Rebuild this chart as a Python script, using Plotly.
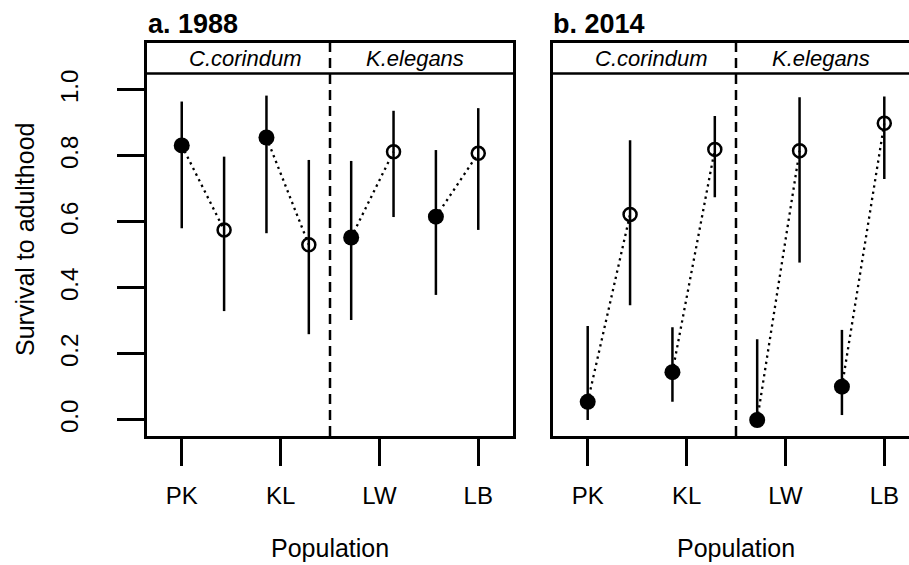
import plotly.graph_objects as go

# ---------------- data ----------------
populations = ["PK", "KL", "LW", "LB"]
species_labels = ["C.corindum", "K.elegans"]
panel_titles = ["a. 1988", "b. 2014"]
y_ticks = [0.0, 0.2, 0.4, 0.6, 0.8, 1.0]

# x positions: filled point then open point for each population
filled_pos = [1, 3, 5, 7]
open_pos = [2, 4, 6, 8]
pop_tick_pos = [1, 10 / 3, 17 / 3, 8]
species_label_pos = [2.5, 6.5]
species_divider = 4.5

# 1988
filled_1988 = [0.832, 0.856, 0.553, 0.616]
filled_1988_lo = [0.581, 0.566, 0.303, 0.379]
filled_1988_hi = [0.965, 0.983, 0.785, 0.818]
open_1988 = [0.576, 0.531, 0.813, 0.808]
open_1988_lo = [0.330, 0.260, 0.615, 0.576]
open_1988_hi = [0.798, 0.788, 0.937, 0.945]

# 2014
filled_2014 = [0.055, 0.145, 0.0, 0.101]
filled_2014_lo = [0.0, 0.055, 0.0, 0.015]
filled_2014_hi = [0.285, 0.281, 0.245, 0.273]
open_2014 = [0.623, 0.820, 0.816, 0.899]
open_2014_lo = [0.348, 0.675, 0.477, 0.730]
open_2014_hi = [0.848, 0.921, 0.978, 0.980]

# ---------------- style ----------------
FONT = "Liberation Sans, Arial, Helvetica, sans-serif"
LW = 2.5
W, H = 909, 565
STRIP_Y = 1.05

fig = go.Figure()


def add_panel(fig, xa, ya, fv, flo, fhi, ov, olo, ohi):
    # dotted connectors
    cx, cy = [], []
    for i in range(len(fv)):
        cx += [filled_pos[i], open_pos[i], None]
        cy += [fv[i], ov[i], None]
    fig.add_trace(go.Scatter(x=cx, y=cy, mode="lines", xaxis=xa, yaxis=ya,
                             line=dict(color="black", width=2.3, dash="2.3px,4px"),
                             showlegend=False, hoverinfo="skip"))
    # filled points
    fig.add_trace(go.Scatter(
        x=filled_pos, y=fv, mode="markers", xaxis=xa, yaxis=ya,
        marker=dict(symbol="circle", size=16, color="black"),
        error_y=dict(type="data", symmetric=False,
                     array=[h - v for h, v in zip(fhi, fv)],
                     arrayminus=[v - l for l, v in zip(flo, fv)],
                     color="black", thickness=LW, width=0),
        showlegend=False))
    # open points
    fig.add_trace(go.Scatter(
        x=open_pos, y=ov, mode="markers", xaxis=xa, yaxis=ya,
        marker=dict(symbol="circle-open", size=13, color="black",
                    line=dict(width=LW, color="black")),
        error_y=dict(type="data", symmetric=False,
                     array=[h - v for h, v in zip(ohi, ov)],
                     arrayminus=[v - l for l, v in zip(olo, ov)],
                     color="black", thickness=LW, width=0),
        showlegend=False))


add_panel(fig, "x", "y", filled_1988, filled_1988_lo, filled_1988_hi,
          open_1988, open_1988_lo, open_1988_hi)
add_panel(fig, "x2", "y2", filled_2014, filled_2014_lo, filled_2014_hi,
          open_2014, open_2014_lo, open_2014_hi)

y_range = [-0.0485, 1.1424]
y_domain = [(H - 436) / H, (H - 43) / H]

xcommon = dict(tickvals=pop_tick_pos, ticktext=populations, ticks="outside",
               ticklen=27, tickwidth=LW, tickcolor="black", showline=True,
               linewidth=LW, linecolor="black", showgrid=False, zeroline=False,
               tickfont=dict(family=FONT, size=24, color="black"),
               ticklabelstandoff=9, fixedrange=True)

fig.update_layout(
    width=W, height=H, margin=dict(l=0, r=0, t=0, b=0),
    paper_bgcolor="white", plot_bgcolor="white",
    font=dict(family=FONT, color="black"),
    xaxis=dict(domain=[147 / W, 513 / W], range=[0.18, 8.82], mirror=True, **xcommon),
    xaxis2=dict(domain=[552.7 / W, 1.0], range=[0.174, 8.583], mirror=True,
                anchor="y2", **xcommon),
    yaxis=dict(domain=y_domain, range=y_range, tickvals=y_ticks,
               ticktext=[f"{v:.1f}" for v in y_ticks], tickangle=-90,
               ticks="outside", ticklen=27, tickwidth=LW, tickcolor="black",
               showline=True, linewidth=LW, linecolor="black", mirror=True,
               showgrid=False, zeroline=False, ticklabelstandoff=30,
               tickfont=dict(family=FONT, size=24, color="black"), fixedrange=True),
    yaxis2=dict(domain=y_domain, range=y_range, anchor="x2", showticklabels=False,
                ticks="", showline=True, linewidth=LW, linecolor="black",
                mirror=False, showgrid=False, zeroline=False, fixedrange=True),
)

shapes = []
annotations = []
for xa, ya, xref_dom in [("x", "y", "x domain"), ("x2", "y2", "x2 domain")]:
    # strip bottom border
    shapes.append(dict(type="line", xref=xref_dom, yref=ya, x0=0, x1=1,
                       y0=STRIP_Y, y1=STRIP_Y, line=dict(color="black", width=LW)))
    # species divider
    shapes.append(dict(type="line", xref=xa, yref=ya + " domain",
                       x0=species_divider, x1=species_divider, y0=0, y1=1,
                       line=dict(color="black", width=LW, dash="10px,6px")))
    for lbl, pos in zip(species_labels, species_label_pos):
        annotations.append(dict(text=f"<i>{lbl}</i>", x=pos, y=(STRIP_Y + y_range[1]) / 2,
                                xref=xa, yref=ya, showarrow=False,
                                xanchor="center", yanchor="middle",
                                font=dict(family=FONT, size=22, color="black")))

# panel titles
annotations.append(dict(text="<b>" + panel_titles[0] + "</b>", x=146 / W, y=1 - 24 / H,
                        xref="paper", yref="paper", showarrow=False,
                        xanchor="left", yanchor="middle",
                        font=dict(family=FONT, size=27, color="black")))
annotations.append(dict(text="<b>" + panel_titles[1] + "</b>", x=551 / W, y=1 - 24 / H,
                        xref="paper", yref="paper", showarrow=False,
                        xanchor="left", yanchor="middle",
                        font=dict(family=FONT, size=27, color="black")))
# axis titles
annotations.append(dict(text="Survival to adulthood", x=25 / W, y=1 - 240 / H,
                        xref="paper", yref="paper", showarrow=False, textangle=-90,
                        xanchor="center", yanchor="middle",
                        font=dict(family=FONT, size=25, color="black")))
for cx in [330, 735.7]:
    annotations.append(dict(text="Population", x=cx / W, y=1 - 548 / H,
                            xref="paper", yref="paper", showarrow=False,
                            xanchor="center", yanchor="middle",
                            font=dict(family=FONT, size=25, color="black")))

fig.update_layout(shapes=shapes, annotations=annotations)
fig.write_html("out.html", config={"displayModeBar": False},
               post_script="document.body.style.margin='0';document.body.style.overflow='hidden';")
